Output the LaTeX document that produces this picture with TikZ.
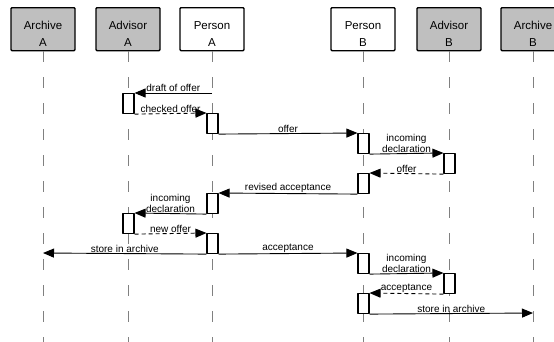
\documentclass[tikz,border=0pt]{standalone}
\usepackage{fontspec}
\setmainfont{Liberation Sans}
\usetikzlibrary{arrows.meta,positioning}

\begin{document}
\begin{tikzpicture}[
    x = 1pt, y = -1pt,
    line join=round,
    actor/.style = {draw, line width=1.4pt, rounded corners=1pt, fill=white, minimum width=64pt, minimum height=43pt, inner sep=0pt, anchor=north},
    extern/.style = {actor, fill=gray!50},
    actortext/.style = {align=center, inner sep=0pt, font=\fontsize{11.5}{16.7}\selectfont},
    life/.style = {gray, line width=0.7pt, dash pattern=on 11pt off 15pt},
    act/.style = {draw, line width=1.1pt, fill=white, minimum width=11pt, minimum height=20pt, inner sep=0pt, anchor=north},
    msg/.style = {line width=0.9pt, -{Triangle[length=11pt,width=9pt]}},
    reply/.style = {msg, dash pattern=on 4pt off 3pt},
    lbl/.style = {above, inner sep=1pt, align=center, font=\fontsize{10}{11}\selectfont}
]

\path[use as bounding box, clip] (0,0) rectangle (554,341);

% lifeline heads
\node[extern] (arcA) at (43,7) {};
\node[extern] (advA) at (128,7) {};
\node[actor] (perA) at (212,7) {};
\node[actor] (perB) at (363,7) {};
\node[extern] (advB) at (449,7) {};
\node[extern] (arcB) at (533,7) {};

\node[actortext] (arcAt) at ([yshift=-4.6pt]arcA.center) {Archive\\A};
\node[actortext] (advAt) at ([yshift=-4.6pt]advA.center) {Advisor\\A};
\node[actortext] (perAt) at ([yshift=-4.6pt]perA.center) {Person\\A};
\node[actortext] (perBt) at ([yshift=-4.6pt]perB.center) {Person\\B};
\node[actortext] (advBt) at ([yshift=-4.6pt]advB.center) {Advisor\\B};
\node[actortext] (arcBt) at ([yshift=-4.6pt]arcB.center) {Archive\\B};

\foreach \n in {arcA, advA, perA, perB, advB, arcB}
    \draw[life] (\n.south) -- ++(0,295);

% activations
\node[act] (advA1) at (128.5,93) {};
\node[act] (perA1) at (212.5,113) {};
\node[act] (perB1) at (363.5,133) {};
\node[act] (advB1) at (449.5,153) {};
\node[act] (perB2) at (363.5,173) {};
\node[act] (perA2) at (212.5,193) {};
\node[act] (advA2) at (128.5,213) {};
\node[act] (perA3) at (212.5,233) {};
\node[act] (perB3) at (363.5,253) {};
\node[act] (advB2) at (449.5,273) {};
\node[act] (perB4) at (363.5,293) {};

\coordinate (draftstart) at (212,93);
\coordinate (storeA) at (43,253);
\coordinate (storeB) at (533,313);

% messages
\draw[msg] (draftstart) -- (advA1.north east) node[lbl, midway] {draft of offer};
\draw[reply] (advA1.south east) -- (perA1.north west) node[lbl, midway] {checked offer};
\draw[msg] (perA1.south east) -- (perB1.north west) node[lbl, midway] {offer};
\draw[msg] (perB1.south east) -- (advB1.north west) node[lbl, midway] {incoming\\declaration};
\draw[reply] (advB1.south west) -- (perB2.north east) node[lbl, midway] {offer};
\draw[msg] (perB2.south west) -- (perA2.north east) node[lbl, midway] {revised acceptance};
\draw[msg] (perA2.south west) -- (advA2.north east) node[lbl, midway] {incoming\\declaration};
\draw[reply] (advA2.south east) -- (perA3.north west) node[lbl, midway] {new offer};
\draw[msg] (perA3.south west) -- (storeA) node[lbl, midway] {store in archive};
\draw[msg] (perA3.south east) -- (perB3.north west) node[lbl, midway] {acceptance};
\draw[msg] (perB3.south east) -- (advB2.north west) node[lbl, midway] {incoming\\declaration};
\draw[reply] (advB2.south west) -- (perB4.north east) node[lbl, midway] {acceptance};
\draw[msg] (perB4.south east) -- (storeB) node[lbl, midway] {store in archive};

\end{tikzpicture}
\end{document}
